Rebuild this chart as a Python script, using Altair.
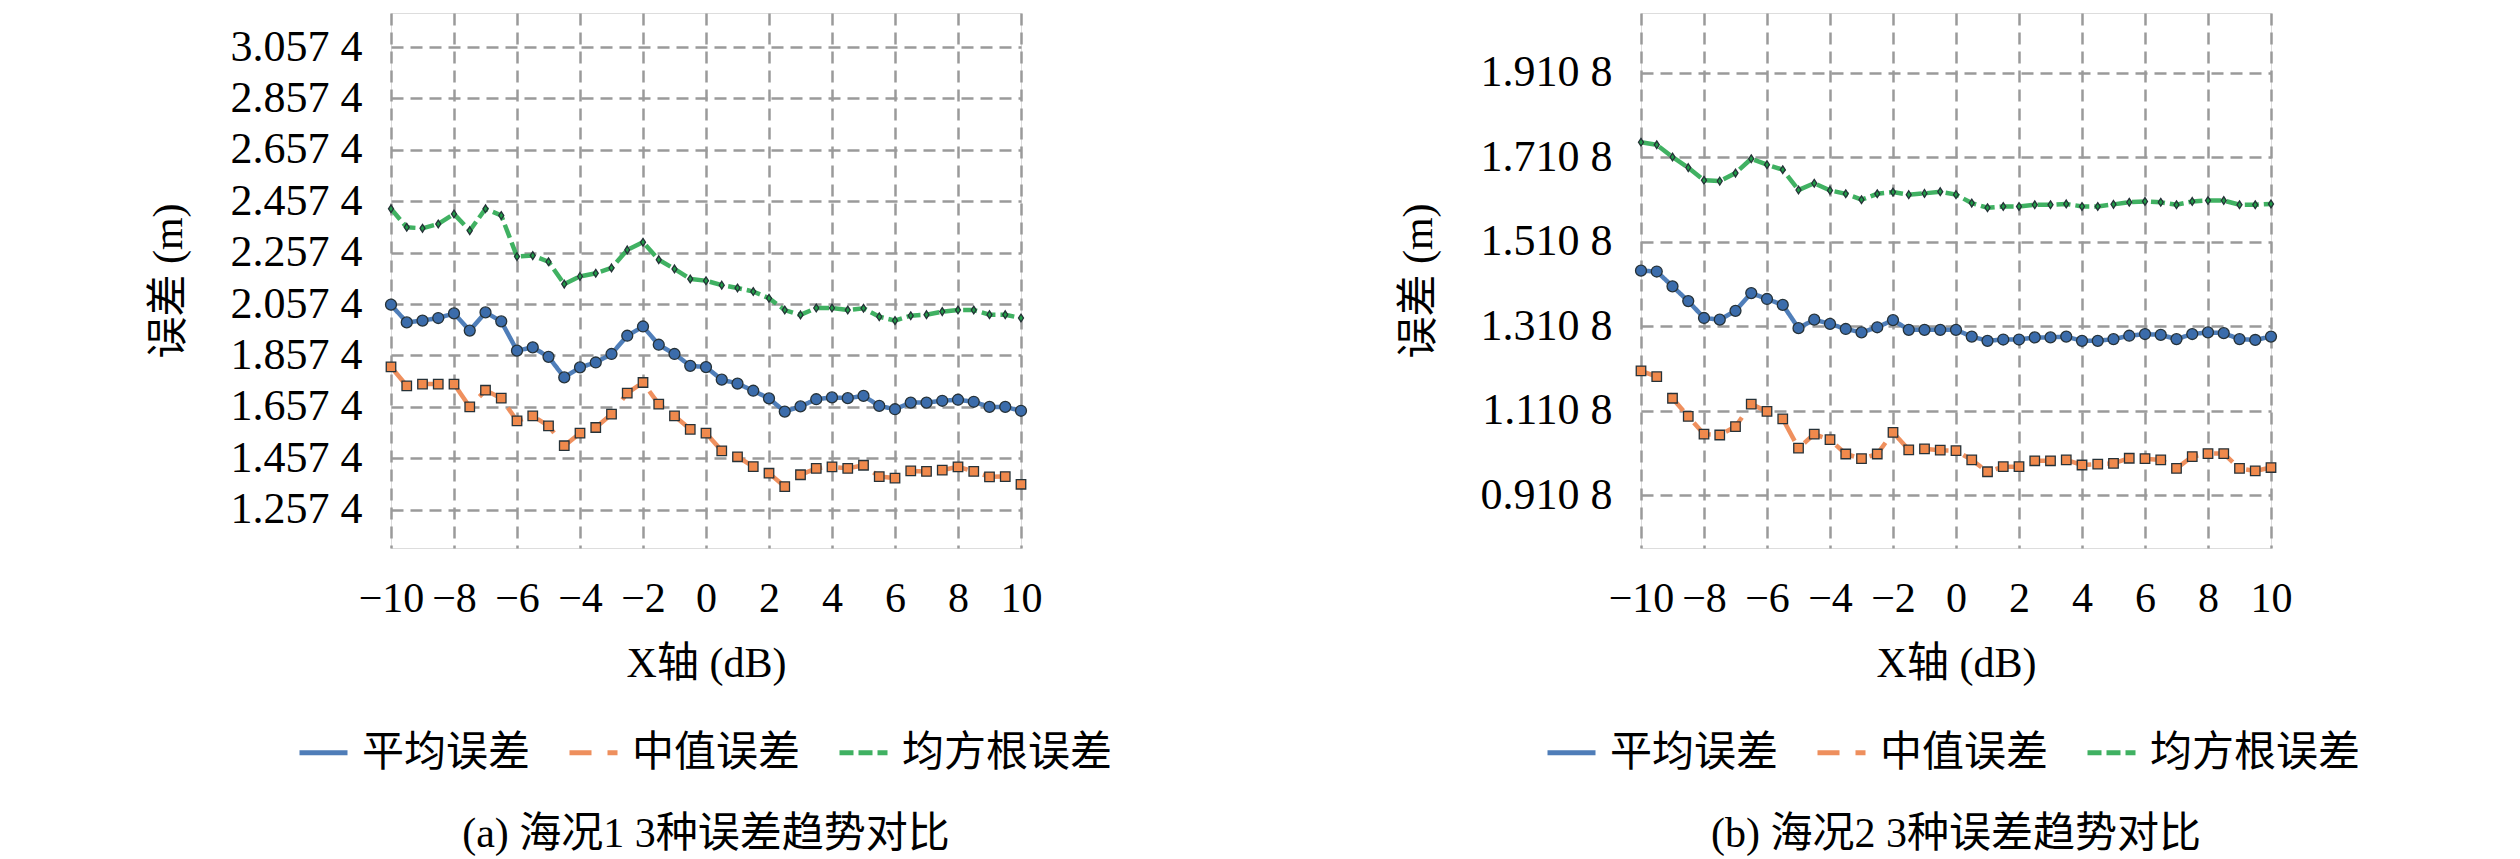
import altair as alt
import pandas as pd

# ---------------- data ----------------
x_vals = [-10.0, -9.5, -9.0, -8.5, -8.0, -7.5, -7.0, -6.5, -6.0, -5.5, -5.0,
          -4.5, -4.0, -3.5, -3.0, -2.5, -2.0, -1.5, -1.0, -0.5, 0.0,
          0.5, 1.0, 1.5, 2.0, 2.5, 3.0, 3.5, 4.0, 4.5, 5.0,
          5.5, 6.0, 6.5, 7.0, 7.5, 8.0, 8.5, 9.0, 9.5, 10.0]

series_names = ["平均误差", "中值误差", "均方根误差"]

# panel (a)
mean_a = [2.055, 1.986, 1.993, 2.003, 2.021, 1.954, 2.025, 1.990, 1.876, 1.889, 1.852,
          1.772, 1.811, 1.830, 1.863, 1.934, 1.970, 1.899, 1.863, 1.817, 1.812,
          1.763, 1.748, 1.720, 1.690, 1.639, 1.659, 1.687, 1.694, 1.691, 1.700,
          1.661, 1.648, 1.674, 1.674, 1.681, 1.685, 1.677, 1.657, 1.657, 1.642]
med_a = [1.813, 1.739, 1.746, 1.746, 1.746, 1.657, 1.722, 1.691, 1.603, 1.622, 1.583,
         1.506, 1.555, 1.577, 1.629, 1.711, 1.752, 1.668, 1.622, 1.570, 1.555,
         1.486, 1.463, 1.425, 1.399, 1.347, 1.393, 1.418, 1.424, 1.418, 1.430,
         1.386, 1.380, 1.408, 1.406, 1.411, 1.424, 1.406, 1.385, 1.386, 1.356]
rms_a = [2.428, 2.356, 2.352, 2.369, 2.408, 2.343, 2.428, 2.402, 2.242, 2.246, 2.222,
         2.135, 2.165, 2.177, 2.198, 2.268, 2.298, 2.230, 2.194, 2.155, 2.148,
         2.131, 2.120, 2.106, 2.080, 2.034, 2.015, 2.042, 2.042, 2.034, 2.041,
         2.008, 1.993, 2.012, 2.016, 2.028, 2.034, 2.034, 2.016, 2.016, 2.003]

# panel (b)
mean_b = [1.442, 1.440, 1.405, 1.370, 1.330, 1.326, 1.347, 1.389, 1.375, 1.361, 1.306,
          1.326, 1.316, 1.304, 1.296, 1.308, 1.325, 1.302, 1.302, 1.302, 1.302,
          1.286, 1.276, 1.279, 1.279, 1.284, 1.284, 1.286, 1.276, 1.276, 1.280,
          1.288, 1.292, 1.290, 1.280, 1.292, 1.296, 1.294, 1.280, 1.278, 1.286]
med_b = [1.205, 1.191, 1.140, 1.097, 1.055, 1.053, 1.073, 1.126, 1.109, 1.091, 1.022,
         1.055, 1.042, 1.008, 0.997, 1.008, 1.059, 1.018, 1.020, 1.017, 1.016,
         0.994, 0.966, 0.978, 0.978, 0.992, 0.992, 0.994, 0.982, 0.984, 0.986,
         0.998, 0.997, 0.994, 0.974, 1.002, 1.009, 1.009, 0.974, 0.968, 0.976]
rms_b = [1.746, 1.740, 1.711, 1.686, 1.656, 1.654, 1.673, 1.707, 1.693, 1.681, 1.633,
         1.649, 1.632, 1.624, 1.610, 1.624, 1.628, 1.622, 1.625, 1.629, 1.622,
         1.602, 1.591, 1.594, 1.594, 1.598, 1.598, 1.600, 1.594, 1.594, 1.599,
         1.604, 1.606, 1.604, 1.598, 1.606, 1.608, 1.608, 1.598, 1.598, 1.600]

x_ticks = [-10, -8, -6, -4, -2, 0, 2, 4, 6, 8, 10]
y_ticks_a = [1.2574, 1.4574, 1.6574, 1.8574, 2.0574, 2.2574, 2.4574, 2.6574, 2.8574, 3.0574]
y_ticks_b = [0.9108, 1.1108, 1.3108, 1.5108, 1.7108, 1.9108]
y_domain_a = [1.108, 3.19]
y_domain_b = [0.7855, 2.052]

caption_a = "(a) 海况1 3种误差趋势对比"
caption_b = "(b) 海况2 3种误差趋势对比"


def make_df(mean, med, rms):
    rows = []
    for name, vals in zip(series_names, [mean, med, rms]):
        for xv, yv in zip(x_vals, vals):
            rows.append({"x": xv, "v": yv, "series": name})
    return pd.DataFrame(rows)


SERIF = "Liberation Serif, Noto Sans CJK SC"
LINE_COLORS = ["#4677b5", "#ee8a55", "#36ad5a"]
FILL_COLORS = ["#3b6cab", "#f0894c", "#1f9a47"]
DASHES = [[1, 0], [22, 16], [14, 5]]
DIAMOND = "M0,-1L0.65,0L0,1L-0.65,0Z"

W, H = 630, 535


def panel(df, y_domain, y_ticks, caption, legend_x):
    x_enc = alt.X(
        "x:Q",
        scale=alt.Scale(domain=[-10, 10], nice=False, zero=False),
        axis=alt.Axis(
            values=x_ticks, title="X轴 (dB)", grid=True, ticks=False, domain=False,
            labelFont=SERIF, labelFontSize=42, labelColor="#000", labelPadding=30,
            titleFont=SERIF, titleFontSize=42, titleFontWeight="normal",
            titleColor="#000", titlePadding=24, labelFlush=False,
            gridDash=[12, 7], gridColor="#9a9a9a", gridWidth=2.5,
        ),
    )
    y_enc = alt.Y(
        "v:Q",
        scale=alt.Scale(domain=y_domain, nice=False, zero=False),
        axis=alt.Axis(
            values=y_ticks, title="误差 (m)", grid=True, ticks=False, domain=False,
            labelExpr="slice(format(datum.value,'.4f'),0,5)+' '+slice(format(datum.value,'.4f'),5)",
            labelFont=SERIF, labelFontSize=44, labelColor="#000", labelPadding=29,
            titleFont=SERIF, titleFontSize=42, titleFontWeight="normal",
            titleColor="#000", titlePadding=40,
            gridDash=[12, 7], gridColor="#9a9a9a", gridWidth=2.5,
        ),
    )
    legend = alt.Legend(
        title=None, orient="none", legendX=legend_x, legendY=713,
        direction="horizontal", symbolType="stroke", symbolSize=2304,
        symbolStrokeWidth=5, labelFont=SERIF, labelFontSize=42, labelColor="#000",
        labelOffset=12, columnPadding=28, labelLimit=400,
    )
    base = alt.Chart(df)
    lines = base.mark_line(strokeWidth=4.5, opacity=0.95).encode(
        x=x_enc, y=y_enc,
        stroke=alt.Stroke("series:N", scale=alt.Scale(domain=series_names, range=LINE_COLORS),
                          legend=legend),
        strokeDash=alt.StrokeDash("series:N", scale=alt.Scale(domain=series_names, range=DASHES),
                                  legend=legend),
        detail="series:N",
    )
    points = base.mark_point(filled=True, stroke="#263238", strokeWidth=1.3, opacity=1).encode(
        x=x_enc, y=y_enc,
        fill=alt.Fill("series:N", scale=alt.Scale(domain=series_names, range=FILL_COLORS),
                      legend=None),
        shape=alt.Shape("series:N", scale=alt.Scale(domain=series_names,
                                                    range=["circle", "square", DIAMOND]),
                        legend=None),
        size=alt.Size("series:N", scale=alt.Scale(domain=series_names, range=[120, 60, 200]),
                      legend=None),
    )
    return alt.layer(lines, points).properties(
        width=W, height=H,
        title=alt.Title(caption, orient="bottom", anchor="middle", frame="group",
                        font=SERIF, fontSize=42, fontWeight="normal", color="#000",
                        offset=40),
    )


left = panel(make_df(mean_a, med_a, rms_a), y_domain_a, y_ticks_a, caption_a, -94)
right = panel(make_df(mean_b, med_b, rms_b), y_domain_b, y_ticks_b, caption_b, -96)

chart = alt.hconcat(left, right, spacing=620, bounds="flush").resolve_scale(
    y="independent", x="independent"
).resolve_legend(stroke="independent", strokeDash="independent").properties(
    padding={"left": 138, "top": 4, "right": 5, "bottom": 5}
).configure_view(
    stroke="#777777", strokeWidth=3, fill="#fafafa"
).configure(background="white")

chart.save("out.html", embed_options={"renderer": "svg", "actions": False})
